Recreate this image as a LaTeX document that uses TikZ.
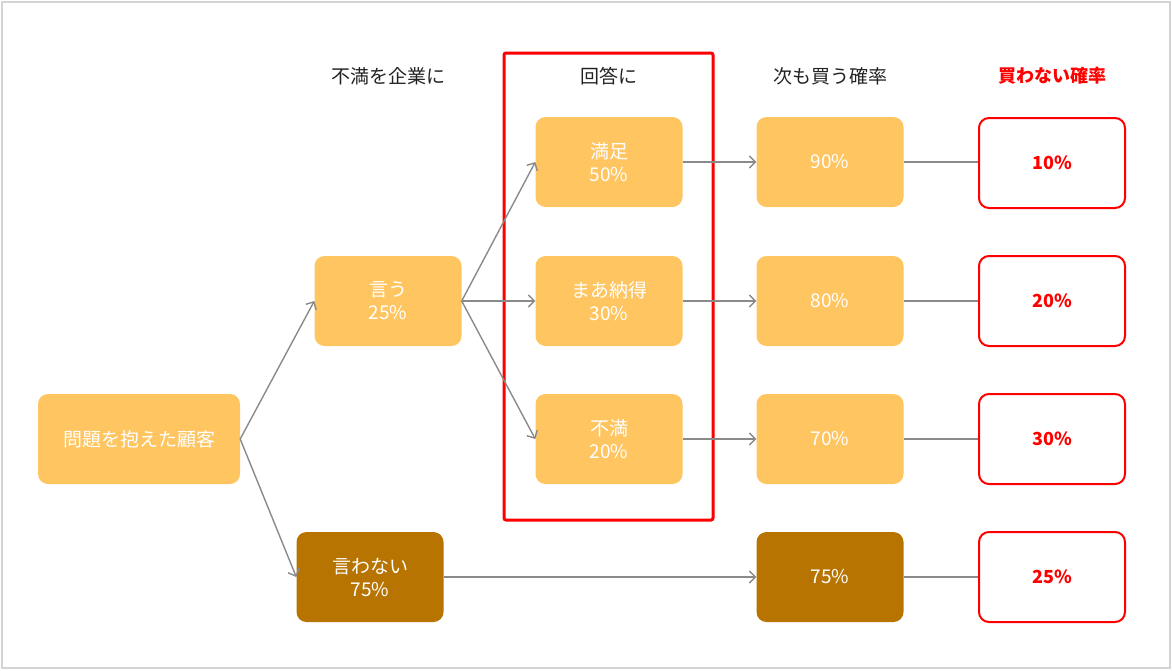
\documentclass[tikz,border=0pt]{standalone}
\usepackage{fontspec}
\setmainfont{Noto Sans CJK JP}
\usetikzlibrary{arrows.meta}
\definecolor{boxfill}{HTML}{FFC561}
\definecolor{darkfill}{HTML}{B87400}
\definecolor{frameg}{HTML}{D4D4D4}
\definecolor{lineg}{HTML}{8A8A8A}
\definecolor{hdr}{HTML}{222222}
\tikzset{
  lt/.style={rounded corners=10pt, fill=boxfill, draw=none, text=white, minimum width=147pt, minimum height=90pt, inner sep=0pt, align=center, font=\fontsize{19}{23}\selectfont},
  dk/.style={lt, fill=darkfill},
  rd/.style={rounded corners=10pt, fill=white, draw=red, line width=2pt, text=red, minimum width=146pt, minimum height=90pt, inner sep=0pt, font=\fontsize{18}{22}\selectfont\bfseries},
  hd/.style={text=hdr, font=\fontsize{19}{22}\selectfont, inner sep=0pt},
  arr/.style={draw=lineg, line width=1.4pt, -{Straight Barb[length=6pt,width=12pt,line width=1.4pt]}},
  ln/.style={draw=lineg, line width=1.4pt}
}
\begin{document}
\begin{tikzpicture}[x=1pt,y=-1pt]
\useasboundingbox (0,0) rectangle (1172,670);
\draw[frameg, line width=1.5pt] (2,2) rectangle (1170,668);
\draw[red, line width=3pt, rounded corners=2pt] (504,53) rectangle (713,520);

\node[hd] (h1) at (388,76) {不満を企業に};
\node[hd] (h2) at (609,76) {回答に};
\node[hd] (h3) at (830,76) {次も買う確率};
\node[hd, text=red, font=\fontsize{18}{22}\selectfont\bfseries] (h4) at (1052,76) {買わない確率};

\node[lt, minimum width=202pt] (root) at (139,439) {問題を抱えた顧客};
\node[lt] (say) at (388,301) {言う\\25\%};
\node[dk] (nosay) at (370,577) {言わない\\75\%};
\node[lt] (a1) at (609,162) {満足\\50\%};
\node[lt] (a2) at (609,301) {まあ納得\\30\%};
\node[lt] (a3) at (609,439) {不満\\20\%};
\node[lt] (p1) at (830,162) {90\%};
\node[lt] (p2) at (830,301) {80\%};
\node[lt] (p3) at (830,439) {70\%};
\node[dk] (p4) at (830,577) {75\%};
\node[rd] (r1) at (1052,163) {10\%};
\node[rd] (r2) at (1052,301) {20\%};
\node[rd] (r3) at (1052,439) {30\%};
\node[rd] (r4) at (1052,577) {25\%};

\draw[arr] (root.east) -- (say.west);
\draw[arr] (root.east) -- (nosay.west);
\draw[arr] (say.east) -- (a1.west);
\draw[arr] (say.east) -- (a2.west);
\draw[arr] (say.east) -- (a3.west);
\draw[arr] (a1.east) -- (p1.west);
\draw[arr] (a2.east) -- (p2.west);
\draw[arr] (a3.east) -- (p3.west);
\draw[arr] (nosay.east) -- (p4.west);
\draw[ln] (p1.east) -- (r1.west |- p1.east);
\draw[ln] (p2.east) -- (r2.west);
\draw[ln] (p3.east) -- (r3.west);
\draw[ln] (p4.east) -- (r4.west);
\end{tikzpicture}
\end{document}
